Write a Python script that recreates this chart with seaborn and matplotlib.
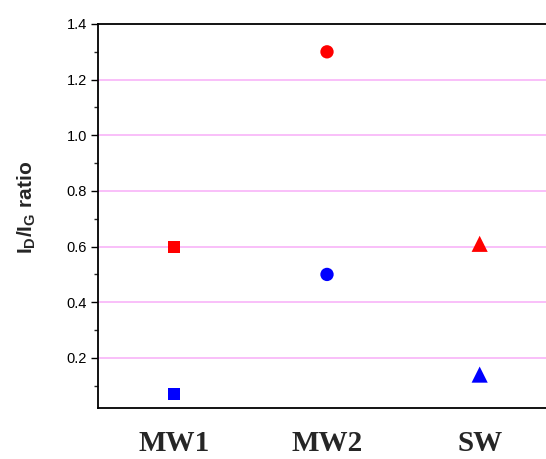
import matplotlib
matplotlib.use("Agg")
import matplotlib.pyplot as plt
from matplotlib.ticker import MultipleLocator, FixedLocator
import seaborn as sns
import pandas as pd

# Raman D/G intensity ratios for the three nanotube samples
samples = ["MW1", "MW2", "SW"]
red_values = [0.60, 1.30, 0.61]
blue_values = [0.07, 0.50, 0.14]
y_ticks = [0.2, 0.4, 0.6, 0.8, 1.0, 1.2, 1.4]

df = pd.DataFrame({
    "sample": samples * 2,
    "series": ["red"] * len(samples) + ["blue"] * len(samples),
    "ratio": red_values + blue_values,
})

sns.set_style("white")
plt.rcParams["mathtext.fontset"] = "custom"
plt.rcParams["mathtext.rm"] = "Liberation Sans:bold"
plt.rcParams["mathtext.it"] = "Liberation Sans:bold"
plt.rcParams["mathtext.bf"] = "Liberation Sans:bold"

fig = plt.figure(figsize=(5.46, 4.59), dpi=100)
# axes run past the right edge of the canvas
ax = fig.add_axes([98 / 546, 1 - 408 / 459, 458 / 546, 384 / 459])

sns.scatterplot(
    data=df, x="sample", y="ratio", hue="series", style="sample", size="sample",
    palette={"red": "#ff0000", "blue": "#0000ff"},
    markers={"MW1": "s", "MW2": "o", "SW": "^"},
    sizes={"MW1": 72, "MW2": 92, "SW": 135},
    linewidth=0, legend=False, ax=ax, zorder=3, clip_on=False,
)

ax.set_xlim(-0.5, 2.5)
ax.set_ylim(0.02, 1.4)
ax.yaxis.set_major_locator(FixedLocator(y_ticks))
ax.yaxis.set_minor_locator(MultipleLocator(0.1))
ax.grid(False)
for y in y_ticks[:-1]:
    ax.axhline(y, color="#f8b4f8", linewidth=1.2, zorder=1)

for side in ["left", "bottom", "top", "right"]:
    ax.spines[side].set_color("black")
    ax.spines[side].set_linewidth(1.3)

ax.tick_params(axis="y", which="major", direction="out", length=5, width=1.0,
               left=True, labelsize=10.5, pad=3, colors="black")
ax.tick_params(axis="y", which="minor", direction="out", length=3, width=1.0, left=True)
ax.tick_params(axis="x", which="both", length=0, pad=16)
for lbl in ax.get_yticklabels():
    lbl.set_family("Liberation Sans")
ax.set_xticks(range(len(samples)))
ax.set_xticklabels(samples, fontfamily="Liberation Serif", fontweight="bold", fontsize=21)

ax.set_xlabel("")
ax.set_ylabel(r"$\mathrm{I_D/I_G}$ ratio", fontfamily="Liberation Sans",
              fontweight="bold", fontsize=15)
ax.yaxis.set_label_coords(-0.13, 0.523)

fig.savefig("out.png", dpi=100)
